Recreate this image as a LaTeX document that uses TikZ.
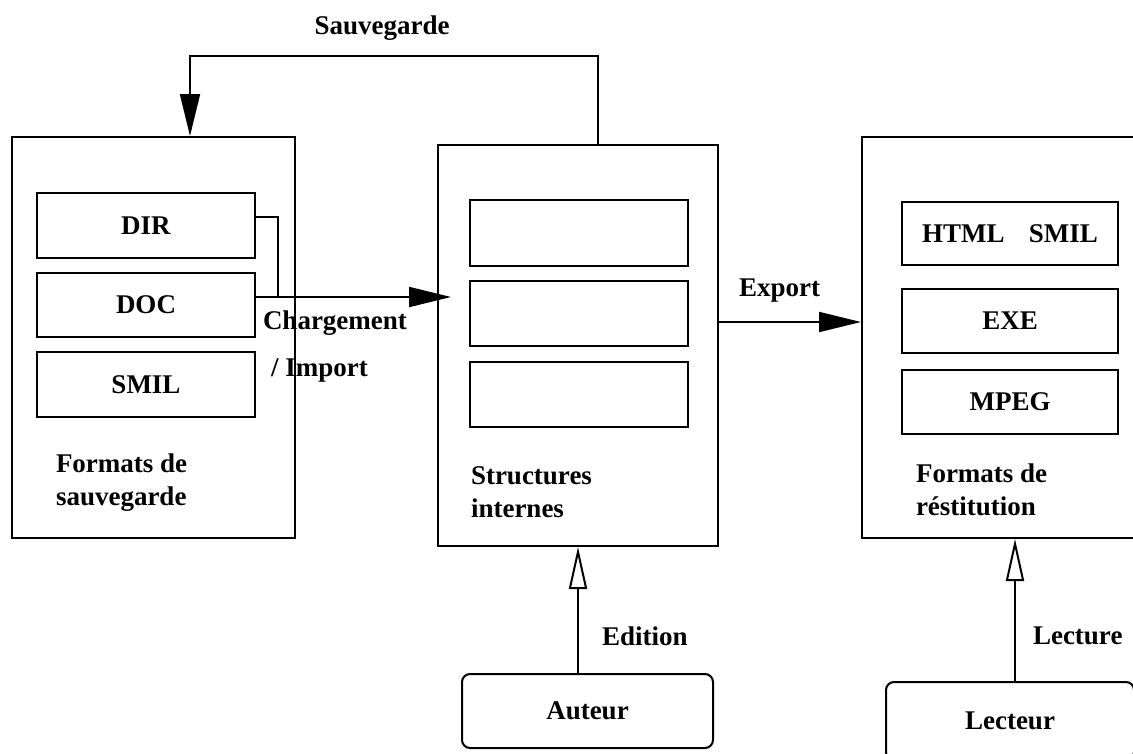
\documentclass[tikz,border=0pt]{standalone}
\usepackage{fontspec}
\setmainfont{Liberation Serif}
\usetikzlibrary{arrows.meta}
\begin{document}
\begin{tikzpicture}[x=1pt,y=-1pt,line width=2pt,
  box/.style={draw,inner sep=0pt},
  rbox/.style={draw,inner sep=0pt,rounded corners=8pt},
  lbl/.style={font=\fontsize{27}{33}\selectfont\bfseries,inner sep=0pt},
  llbl/.style={lbl,anchor=west,align=left},
  farrow/.style={-{Triangle[length=42pt,width=20pt]}},
  oarrow/.style={-{Triangle[open,length=42pt,width=18pt,line width=2pt]}}]
\useasboundingbox (0,0) rectangle (1133,753);
% left
\node[box,minimum width=283pt,minimum height=401pt] (lft) at (153.5,337.5) {};
\node[box,lbl,minimum width=218pt,minimum height=65pt] (dir) at (146,225.5) {DIR};
\node[box,lbl,minimum width=218pt,minimum height=64pt] (doc) at (146,305) {DOC};
\node[box,lbl,minimum width=218pt,minimum height=65pt] (smil) at (146,384.5) {SMIL};
\node[llbl] (fs) at (55,483) {Formats de\\sauvegarde};
% middle
\node[box,minimum width=280pt,minimum height=401pt] (mid) at (578,345.5) {};
\node[box,minimum width=218pt,minimum height=66pt] (m1) at (579,233) {};
\node[box,minimum width=218pt,minimum height=65pt] (m2) at (579,313.5) {};
\node[box,minimum width=218pt,minimum height=65pt] (m3) at (579,394.5) {};
\node[llbl] (si) at (470,492) {Structures\\internes};
% right
\node[box,minimum width=272pt,minimum height=401pt] (rgt) at (998,337.5) {};
\node[box,lbl,minimum width=216pt,minimum height=63pt] (r1) at (1010,233.5) {HTML\hspace{0.9em}SMIL};
\node[box,lbl,minimum width=216pt,minimum height=64pt] (r2) at (1010,321) {EXE};
\node[box,lbl,minimum width=216pt,minimum height=64pt] (r3) at (1010,402) {MPEG};
\node[llbl] (fr) at (915,490) {Formats de\\réstitution};
% bottom
\node[rbox,lbl,minimum width=251pt,minimum height=74pt] (aut) at (587.5,711) {Auteur};
\node[rbox,lbl,minimum width=248pt,minimum height=78pt] (lec) at (1010,721) {Lecteur};
% coordinates
\coordinate (s1) at (598,56);
\coordinate (s2) at (190,56);
\coordinate (d1) at (278,217);
\coordinate (d2) at (278,297);
\coordinate (ex) at (0,322);
\coordinate (ed) at (578,0);
\coordinate (lc) at (1015,0);
% connectors
\draw[farrow] (mid.north -| s1) -- (s1) -- (s2) -- (lft.north -| s2);
\draw (dir.east |- d1) -- (d1) -- (d2);
\draw[farrow] (doc.east |- d2) -- ([xshift=14pt]mid.west |- d2);
\draw[farrow] (mid.east |- ex) -- (rgt.west |- ex);
\draw[oarrow] (aut.north -| ed) -- (mid.south -| ed);
\draw[oarrow] (lec.north -| lc) -- (rgt.south -| lc);
% labels
\node[lbl] (sv) at (382,28) {Sauvegarde};
\node[llbl] (ch) at (262,323) {Chargement};
\node[llbl] (im) at (270,370) {/ Import};
\node[llbl] (exl) at (738,291) {Export};
\node[llbl] (edl) at (601,636) {Edition};
\node[llbl] (lcl) at (1032,636) {Lecture};
\end{tikzpicture}
\end{document}
